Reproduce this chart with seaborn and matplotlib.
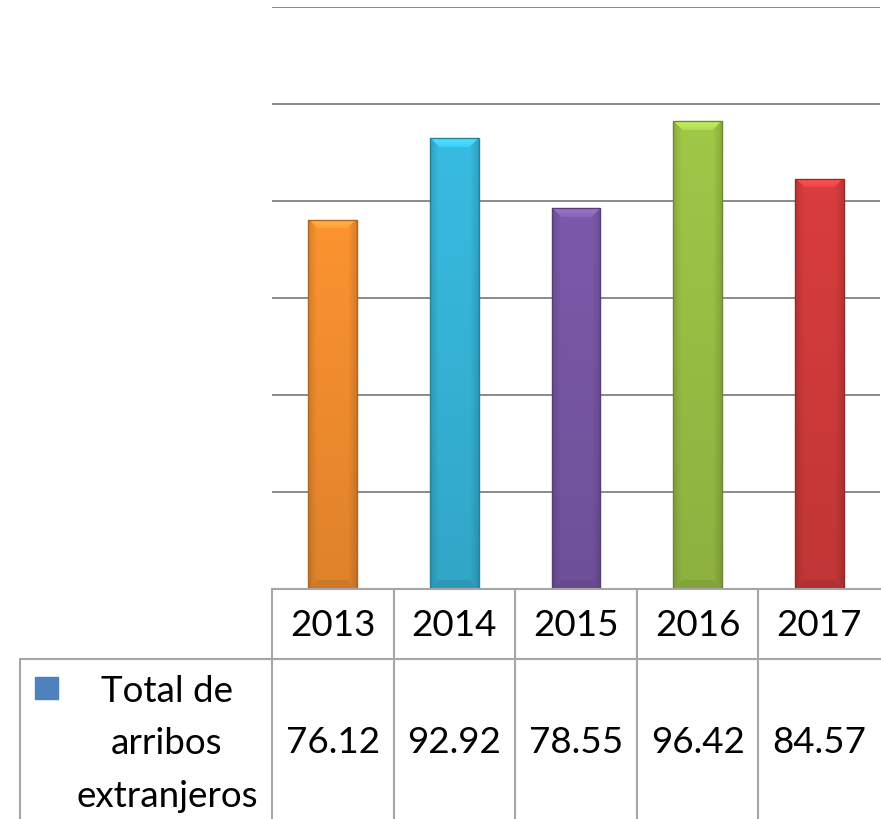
import numpy as np
import pandas as pd
import matplotlib
matplotlib.use("Agg")
import matplotlib.pyplot as plt
import matplotlib.transforms as mtransforms
import matplotlib.colors as mcolors
import seaborn as sns

years = ["2013", "2014", "2015", "2016", "2017"]
values = [76.12, 92.92, 78.55, 96.42, 84.57]
bar_colors = ["#F08C2E", "#35B3D6", "#7656A3", "#98BE44", "#CF3A3A"]
series_label = "Total de\narribos\nextranjeros"
legend_color = "#4F81BD"

sns.set_theme(style="white")
plt.rcParams["font.family"] = ["Lato", "DejaVu Sans"]

W, H = 881, 820
fig = plt.figure(figsize=(W / 100, H / 100), dpi=100)
ax = fig.add_axes([272 / W, (H - 590) / H, (880 - 272) / W, (590 - 8) / H])

df = pd.DataFrame({"year": years, "value": values})
sns.barplot(data=df, x="year", y="value", hue="year", palette=bar_colors,
            width=0.4, legend=False, ax=ax, saturation=1, zorder=3)
ax.set_ylim(0, 120)
ax.set_xlim(-0.5, len(years) - 0.5)
ax.set_yticks(np.arange(0, 121, 20))
ax.yaxis.grid(True, color="#8A8A8A", linewidth=1.4, zorder=0)
ax.set_axisbelow(True)
ax.tick_params(left=False, bottom=False, labelleft=False, labelbottom=False)
ax.set_xlabel("")
ax.set_ylabel("")
for s in ax.spines.values():
    s.set_visible(False)

# bevelled gradient shading on bars
px_per_unit = 582 / 120
for patch, col in zip(ax.patches, bar_colors):
    bb = patch.get_bbox()
    x0, x1, y0, y1 = bb.x0, bb.x1, bb.y0, bb.y1
    base = np.array(mcolors.to_rgb(col))
    wpx = int(round((x1 - x0) * 122))
    hpx = int(round((y1 - y0) * px_per_unit))
    xs = np.arange(wpx) + 0.5
    ys = np.arange(hpx) + 0.5
    X, Y = np.meshgrid(xs, ys)
    dside = np.minimum(X, wpx - X)
    dtop = Y
    dbot = hpx - Y
    frac = Y / hpx
    shade = 1.05 - 0.12 * frac
    img = base[None, None, :] * shade[..., None]
    bev = 9.0
    side = (dside < bev) & (dside <= dtop) & (dside <= dbot)
    sf = 0.86 + 0.14 * (dside / bev)
    img = np.where(side[..., None], img * sf[..., None], img)
    top = (dtop < bev) & (dtop < dside)
    img = np.where(top[..., None], img * 1.1 + 0.08 * (1 - dtop / bev)[..., None], img)
    bot = (dbot < bev) & (dbot < dside)
    img = np.where(bot[..., None], img * 0.92, img)
    img = np.clip(img, 0, 1)
    im = ax.imshow(img, extent=[x0, x1, y0, y1], aspect="auto", zorder=4,
                   interpolation="bilinear", origin="upper")
    im.set_clip_path(patch)
    patch.set_edgecolor(tuple(base * 0.72))
    patch.set_linewidth(1.0)
    patch.set_zorder(5)
    patch.set_facecolor("none")

ax.set_xlim(-0.5, len(years) - 0.5)
ax.set_ylim(0, 120)

# data table below
trans = mtransforms.blended_transform_factory(ax.transData, fig.transFigure)
def fy(py):
    return (H - py) / H

line_kw = dict(color="#A6A6A6", linewidth=1.5, transform=fig.transFigure, clip_on=False)
fig.add_artist(plt.Line2D([272 / W, 1.0], [fy(590), fy(590)], **line_kw))
fig.add_artist(plt.Line2D([20 / W, 1.0], [fy(660), fy(660)], **line_kw))
fig.add_artist(plt.Line2D([20 / W, 20 / W], [fy(660), 0], **line_kw))
for i in range(len(years)):
    ax.add_artist(plt.Line2D([i - 0.5, i - 0.5], [fy(590), 0], color="#A6A6A6",
                             linewidth=1.5, transform=trans, clip_on=False))
for i, (yr, v) in enumerate(zip(years, values)):
    ax.text(i, fy(626), yr, transform=trans, ha="center", va="center",
            fontsize=26.5, color="#000000")
    ax.text(i, fy(743), f"{v:.2f}", transform=trans, ha="center", va="center",
            fontsize=26.5, color="#000000")

fig.add_artist(plt.Rectangle((35 / W, fy(700)), 23 / W, 22 / H, color=legend_color,
                             transform=fig.transFigure))
fig.text(167 / W, fy(744), series_label, ha="center", va="center", fontsize=26.5,
         linespacing=1.72, color="#000000")

fig.savefig("out.png", dpi=100)
